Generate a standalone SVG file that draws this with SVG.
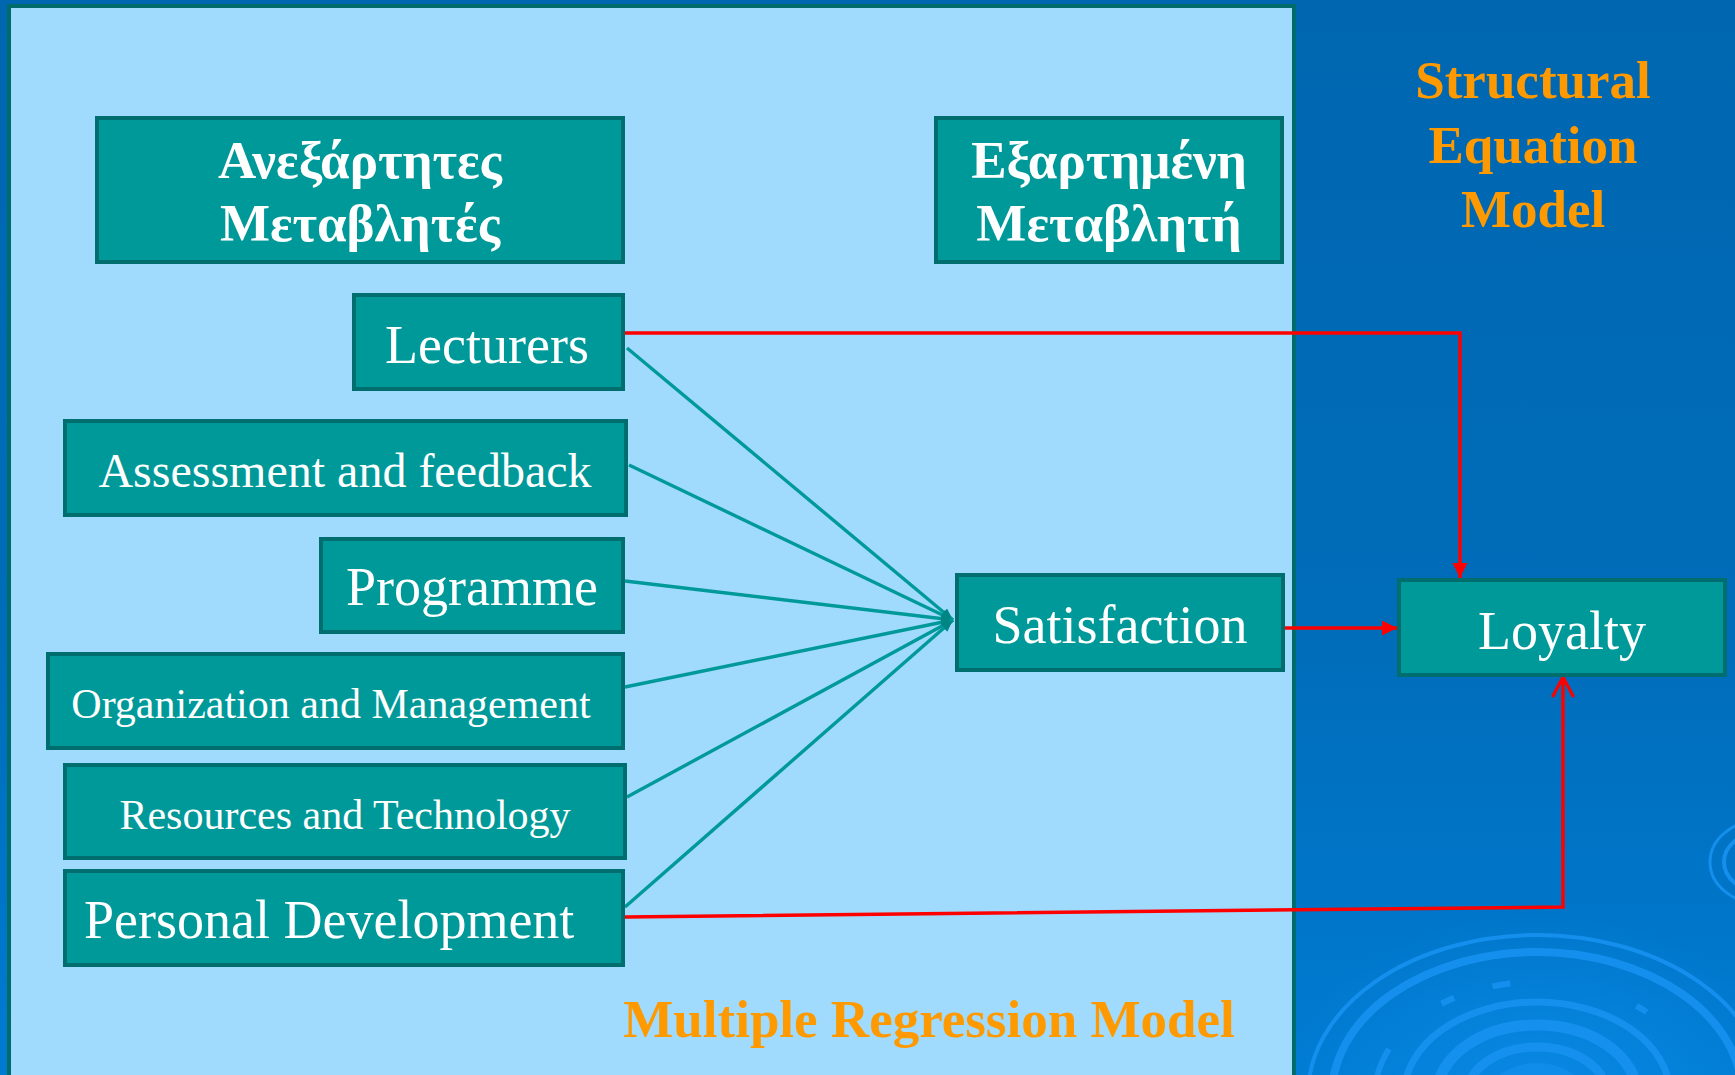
<svg xmlns="http://www.w3.org/2000/svg" width="1735" height="1075" viewBox="0 0 1735 1075">
  <defs>
    <linearGradient id="bg" x1="0" y1="0" x2="0" y2="1">
      <stop offset="0" stop-color="#0066B0"/>
      <stop offset="0.6" stop-color="#006DBA"/>
      <stop offset="1" stop-color="#007BD2"/>
    </linearGradient>
    <radialGradient id="glow" cx="1537" cy="1095" r="260" gradientUnits="userSpaceOnUse" gradientTransform="translate(1537 1095) scale(1 0.7) translate(-1537 -1095)">
      <stop offset="0" stop-color="#0A8AE6" stop-opacity="0.9"/>
      <stop offset="1" stop-color="#0A8AE6" stop-opacity="0"/>
    </radialGradient>
    <marker id="redHead" markerUnits="userSpaceOnUse" markerWidth="16" markerHeight="16" refX="15" refY="7.5" orient="auto">
      <path d="M0,0 L15,7.5 L0,15 Z" fill="#FF0000"/>
    </marker>
    <marker id="redOpen" markerUnits="userSpaceOnUse" markerWidth="24" markerHeight="26" refX="21" refY="12" orient="auto">
      <path d="M1,1.5 L21,12 L1,22.5" fill="none" stroke="#FF0000" stroke-width="3.2"/>
    </marker>
    <marker id="tealHead" markerUnits="userSpaceOnUse" markerWidth="14" markerHeight="12" refX="12" refY="5" orient="auto">
      <path d="M0,0 L12,5 L0,10 Z" fill="#008585"/>
    </marker>
    <style>
      .box { fill: #009999; stroke: #006E6E; stroke-width: 4; }
      .lbl { font-family: "Liberation Serif", "Times New Roman", serif; fill: #FFFFFF; text-anchor: middle; }
      .hdr { font-family: "Liberation Serif", "Times New Roman", serif; fill: #FFFFFF; font-weight: bold; font-size: 53px; text-anchor: middle; }
      .ttl { font-family: "Liberation Serif", "Times New Roman", serif; fill: #FF9900; font-weight: bold; font-size: 53px; text-anchor: middle; }
      .teal { fill: none; stroke: #009999; stroke-width: 3.4; marker-end: url(#tealHead); }
      .red { fill: none; stroke: #FF0000; stroke-width: 3.5; }
      .ring { fill: none; stroke: #1690EE; stroke-opacity: 0.95; }
    </style>
  </defs>

  <!-- background -->
  <rect x="0" y="0" width="1735" height="1075" fill="url(#bg)"/>

  <!-- ripple ornament, lower right -->
  <g id="ripples">
    <ellipse cx="1537" cy="1095" rx="260" ry="180" fill="url(#glow)"/>
    <ellipse class="ring" cx="1537" cy="1095" rx="229" ry="160" stroke-width="4" stroke-dasharray="560 30 900"/>
    <ellipse class="ring" cx="1537" cy="1095" rx="205" ry="143" stroke-width="8"/>
    <ellipse class="ring" cx="1537" cy="1095" rx="162" ry="113" stroke-width="6" stroke-dasharray="70 14 40 18 130 12 200"/>
    <ellipse class="ring" cx="1537" cy="1095" rx="133" ry="93" stroke-width="7"/>
    <ellipse class="ring" cx="1537" cy="1095" rx="100" ry="70" stroke-width="11"/>
    <ellipse class="ring" cx="1537" cy="1095" rx="70" ry="48" stroke-width="9"/>
    <ellipse cx="1537" cy="1095" rx="48" ry="32" fill="#1690EE" fill-opacity="0.6"/>
    <ellipse class="ring" cx="1762" cy="862" rx="52" ry="42" stroke-width="3"/>
    <ellipse class="ring" cx="1762" cy="862" rx="38" ry="30" stroke-width="4"/>
  </g>

  <!-- regression panel -->
  <rect x="9" y="6" width="1285" height="1100" fill="#A0DBFE" stroke="#006B6B" stroke-width="4"/>

  <!-- panel titles -->
  <text class="ttl" x="929" y="1037">Multiple Regression Model</text>
  <text class="ttl" x="1533" y="98">Structural</text>
  <text class="ttl" x="1533" y="163">Equation</text>
  <text class="ttl" x="1533" y="227">Model</text>

  <!-- connectors -->
  <g id="connectors">
    <path class="teal" d="M627,348 L953,620"/>
    <path class="teal" d="M629,465 L953,620"/>
    <path class="teal" d="M625,581 L953,620"/>
    <path class="teal" d="M625,687 L953,620"/>
    <path class="teal" d="M627,797 L953,620"/>
    <path class="teal" d="M625,907 L953,620"/>
    <path class="red" d="M625,333 L1460,333 L1460,578" marker-end="url(#redHead)"/>
    <path class="red" d="M1285,628 L1397,628" marker-end="url(#redHead)"/>
    <path class="red" d="M625,917 L1563,907 L1563,677" marker-end="url(#redOpen)"/>
  </g>

  <!-- nodes -->
  <g id="independent-header">
    <rect class="box" x="97" y="118" width="526" height="144"/>
    <text class="hdr" x="360" y="178">Ανεξάρτητες</text>
    <text class="hdr" x="360" y="241">Μεταβλητές</text>
  </g>
  <g id="dependent-header">
    <rect class="box" x="936" y="118" width="346" height="144"/>
    <text class="hdr" x="1109" y="178">Εξαρτημένη</text>
    <text class="hdr" x="1109" y="241">Μεταβλητή</text>
  </g>
  <g id="lecturers">
    <rect class="box" x="354" y="295" width="269" height="94"/>
    <text class="lbl" x="487" y="363" font-size="54">Lecturers</text>
  </g>
  <g id="assessment">
    <rect class="box" x="65" y="421" width="561" height="94"/>
    <text class="lbl" x="345" y="487" font-size="48">Assessment and feedback</text>
  </g>
  <g id="programme">
    <rect class="box" x="321" y="539" width="302" height="93"/>
    <text class="lbl" x="472" y="605" font-size="54">Programme</text>
  </g>
  <g id="organization">
    <rect class="box" x="48" y="654" width="575" height="94"/>
    <text class="lbl" x="331" y="718" font-size="42">Organization and Management</text>
  </g>
  <g id="resources">
    <rect class="box" x="65" y="765" width="560" height="93"/>
    <text class="lbl" x="345" y="829" font-size="42">Resources and Technology</text>
  </g>
  <g id="personal-development">
    <rect class="box" x="65" y="871" width="558" height="94"/>
    <text class="lbl" x="84" y="938" font-size="54" style="text-anchor:start">Personal Development</text>
  </g>
  <g id="satisfaction">
    <rect class="box" x="957" y="575" width="326" height="95"/>
    <text class="lbl" x="1120" y="643" font-size="54">Satisfaction</text>
  </g>
  <g id="loyalty">
    <rect class="box" x="1399" y="580" width="326" height="95"/>
    <text class="lbl" x="1562" y="649" font-size="54">Loyalty</text>
  </g>
</svg>
